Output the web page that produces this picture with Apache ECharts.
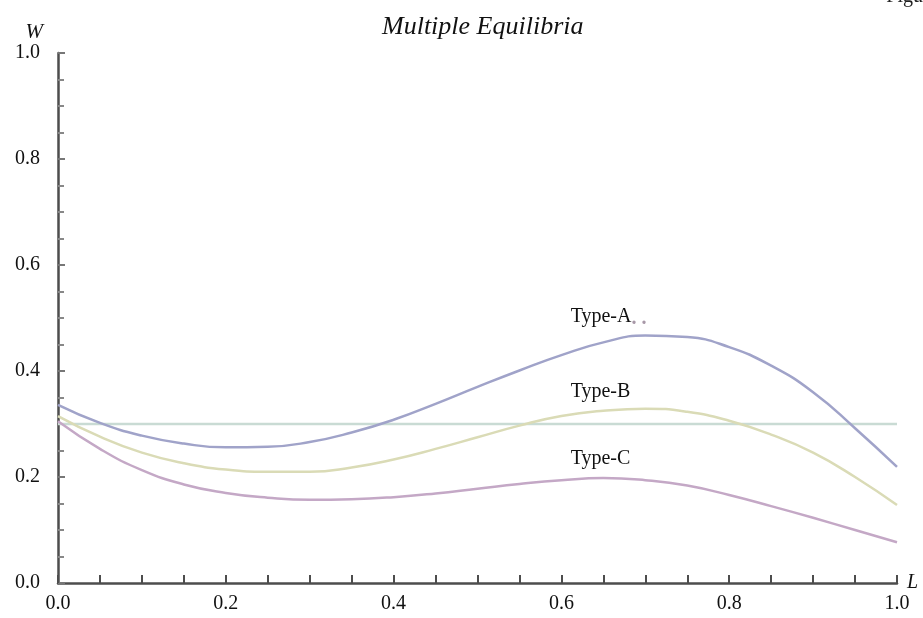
<!DOCTYPE html>
<html>
<head>
<meta charset="utf-8">
<script src="https://cdn.jsdelivr.net/npm/echarts@6/dist/echarts.min.js"></script>
<style>
html,body{margin:0;padding:0;background:#fff;}
#c{width:923px;height:618px;}
</style>
</head>
<body>
<div id="c"></div>
<script>
const L_VALUES = [0,0.05,0.1,0.15,0.2,0.25,0.3,0.35,0.4,0.45,0.5,0.55,0.6,0.65,0.7,0.75,0.8,0.85,0.9,0.95,1.0];
const TYPE_A = [0.336,0.302,0.278,0.263,0.256,0.257,0.266,0.284,0.308,0.338,0.370,0.401,0.430,0.454,0.467,0.464,0.445,0.410,0.360,0.292,0.219];
const TYPE_B = [0.315,0.276,0.246,0.226,0.214,0.210,0.210,0.218,0.233,0.253,0.275,0.297,0.315,0.325,0.329,0.323,0.306,0.280,0.246,0.200,0.147];
const TYPE_C = [0.305,0.253,0.213,0.186,0.170,0.161,0.157,0.158,0.162,0.169,0.178,0.187,0.194,0.198,0.194,0.184,0.166,0.145,0.123,0.100,0.077];
const LEVEL_L = [0, 1.0];
const LEVEL_W = [0.3, 0.3];
const LABELS = [
  {name:'Type-A', L:0.611, W:0.502},
  {name:'Type-B', L:0.611, W:0.360},
  {name:'Type-C', L:0.611, W:0.234}
];
const X_TICKS = [0.0,0.2,0.4,0.6,0.8,1.0];
const Y_TICKS = [0.0,0.2,0.4,0.6,0.8,1.0];

const serif = '"Liberation Serif","DejaVu Serif",serif';
const pair = (xs, ys) => xs.map((x,i)=>[x, ys[i]]);

const chart = echarts.init(document.getElementById('c'), null, {renderer:'canvas'});
const axisColor = '#4d4d4d';
chart.setOption({
  animation:false,
  backgroundColor:'#ffffff',
  title:{
    text:'Multiple Equilibria',
    left:377, top:9,
    textStyle:{fontFamily:serif, fontStyle:'italic', fontWeight:'normal', fontSize:26, color:'#111'}
  },
  graphic:[{
    type:'text', right:0, top:-13,
    style:{text:'Figu', font:'20px ' + serif, fill:'#222'}
  }],
  grid:{left:58, right:26, top:53, bottom:35},
  xAxis:{
    type:'value', min:0, max:1, interval:0.2,
    name:'L', nameLocation:'end', nameGap:10,
    nameTextStyle:{fontFamily:serif, fontStyle:'italic', fontSize:20, color:'#111', verticalAlign:'middle', padding:[44,0,0,0]},
    axisLine:{show:true, lineStyle:{color:axisColor, width:2.5}},
    axisTick:{show:true, inside:true, length:8, lineStyle:{color:axisColor, width:2}},
    minorTick:{show:true, splitNumber:4, length:8, lineStyle:{color:axisColor, width:2}},
    splitLine:{show:false},
    axisLabel:{
      margin:11, fontFamily:serif, fontSize:20, color:'#111',
      formatter:v => { const t = X_TICKS.find(k=>Math.abs(k-v)<1e-9); return t===undefined ? '' : t.toFixed(1); }
    }
  },
  yAxis:{
    type:'value', min:0, max:1, interval:0.2,
    name:'W', nameLocation:'end', nameGap:10,
    nameTextStyle:{fontFamily:serif, fontStyle:'italic', fontSize:21, color:'#111', align:'right', padding:[0,15,0,0]},
    axisLine:{show:true, lineStyle:{color:axisColor, width:2.5}},
    axisTick:{show:true, inside:true, length:7, lineStyle:{color:'#777', width:2}},
    minorTick:{show:true, splitNumber:4, length:6, lineStyle:{color:'#888', width:2}},
    splitLine:{show:false},
    axisLabel:{
      margin:18, fontFamily:serif, fontSize:20, color:'#111',
      formatter:v => { const t = Y_TICKS.find(k=>Math.abs(k-v)<1e-9); return t===undefined ? '' : t.toFixed(1); }
    }
  },
  series:[
    {type:'line', data:pair(LEVEL_L, LEVEL_W), showSymbol:false, lineStyle:{color:'#c9dbd4', width:2.5}, z:1},
    {type:'line', data:pair(L_VALUES, TYPE_A), smooth:true, showSymbol:false, lineStyle:{color:'#a0a3c9', width:2.5}, z:3},
    {type:'line', data:pair(L_VALUES, TYPE_B), smooth:true, showSymbol:false, lineStyle:{color:'#dadbb6', width:2.5}, z:3},
    {type:'line', data:pair(L_VALUES, TYPE_C), smooth:true, showSymbol:false, lineStyle:{color:'#c4a8c6', width:2.5}, z:3},
    {
      type:'scatter', symbolSize:0, z:5, silent:true,
      itemStyle:{color:'#111', opacity:1},
      data:LABELS.map(o=>({value:[o.L, o.W], name:o.name})),
      label:{
        show:true, position:'right', distance:0, color:'#111', opacity:1,
        formatter:p => p.name==='Type-A' ? '{t|Type-A}{d|. .}' : '{t|' + p.name + '}',
        rich:{
          t:{fontFamily:serif, fontSize:20, color:'#111'},
          d:{fontFamily:serif, fontSize:20, color:'#a898a8', fontWeight:'bold', padding:[4,0,0,0]}
        }
      }
    }
  ]
});
</script>
</body>
</html>
